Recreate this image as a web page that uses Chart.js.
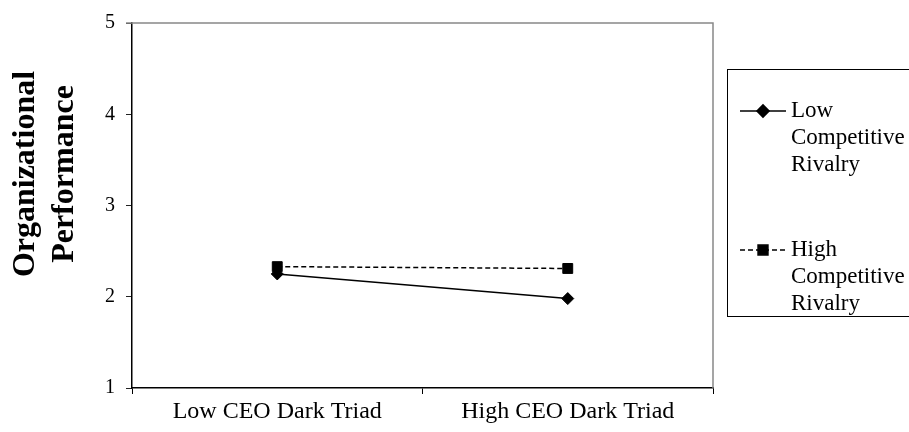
<!DOCTYPE html>
<html>
<head>
<meta charset="utf-8">
<script src="https://cdn.jsdelivr.net/npm/chart.js@4.4.0/dist/chart.umd.min.js"></script>
<style>
  html, body { margin: 0; padding: 0; background: #fff; }
</style>
</head>
<body>
<canvas id="ceoChart" width="909" height="432"></canvas>
<script>
const categories = ["Low CEO Dark Triad", "High CEO Dark Triad"];
const lowRivalry = [2.25, 1.98];
const highRivalry = [2.33, 2.31];
const seriesLabels = [["Low", "Competitive", "Rivalry"], ["High", "Competitive", "Rivalry"]];
const yTicks = [1, 2, 3, 4, 5];
const yTitle = ["Organizational", "Performance"];

const serif = "'Liberation Serif', 'Times New Roman', serif";

// top/right frame of the plot, y title and the boxed legend on the right
const extras = {
  id: "extras",
  beforeDatasetsDraw(chart) {
    const { ctx, chartArea: a } = chart;
    ctx.save();
    ctx.strokeStyle = "#888";
    ctx.lineWidth = 1.5;
    ctx.beginPath();
    ctx.moveTo(126, a.top);
    ctx.lineTo(a.right, a.top);
    ctx.lineTo(a.right, a.bottom);
    ctx.stroke();
    ctx.restore();
  },
  afterDraw(chart) {
    const { ctx } = chart;
    ctx.save();
    // y axis title
    ctx.fillStyle = "#000";
    ctx.font = "bold 32px " + serif;
    ctx.textAlign = "center";
    ctx.textBaseline = "middle";
    ctx.translate(26, 174);
    ctx.rotate(-Math.PI / 2);
    yTitle.forEach((t, i) => ctx.fillText(t, 0, i * 39));
    ctx.restore();

    // legend
    ctx.save();
    ctx.strokeStyle = "#000";
    ctx.lineWidth = 1;
    ctx.strokeRect(727.5, 69.5, 200, 247);
    const rows = [111, 250];
    chart.data.datasets.forEach((ds, i) => {
      const y = rows[i];
      ctx.strokeStyle = ds.borderColor;
      ctx.lineWidth = ds.borderWidth;
      ctx.setLineDash(ds.borderDash || []);
      ctx.beginPath();
      ctx.moveTo(740, y);
      ctx.lineTo(786, y);
      ctx.stroke();
      ctx.setLineDash([]);
      ctx.fillStyle = ds.backgroundColor;
      Chart.helpers.drawPoint(ctx, {
        pointStyle: ds.pointStyle, radius: ds.pointRadius, rotation: 0, borderWidth: 1
      }, 763, y);
      ctx.fillStyle = "#000";
      ctx.font = "23px " + serif;
      ctx.textAlign = "left";
      ctx.textBaseline = "middle";
      seriesLabels[i].forEach((t, j) => ctx.fillText(t, 791, y + j * 27));
    });
    ctx.restore();
  }
};

new Chart(document.getElementById("ceoChart"), {
  type: "line",
  data: {
    labels: categories,
    datasets: [
      {
        label: seriesLabels[0].join(" "),
        data: lowRivalry,
        borderColor: "#000",
        backgroundColor: "#000",
        borderWidth: 1.6,
        pointStyle: "rectRot",
        pointRadius: 6,
        pointBorderWidth: 1,
        tension: 0,
        order: 2,
      },
      {
        label: seriesLabels[1].join(" "),
        data: highRivalry,
        borderColor: "#000",
        backgroundColor: "#000",
        borderWidth: 1.5,
        borderDash: [5, 3],
        pointStyle: "rect",
        pointRadius: 7,
        pointBorderWidth: 1,
        tension: 0,
        order: 1,
      },
    ],
  },
  options: {
    responsive: false,
    animation: false,
    layout: { padding: { left: 0, top: 22, right: 196, bottom: 0 } },
    plugins: { legend: { display: false }, tooltip: { enabled: false } },
    scales: {
      x: {
        offset: true,
        grid: { offset: true, drawOnChartArea: false, tickLength: 6, color: "#000" },
        border: { color: "#000", width: 1.5 },
        ticks: { color: "#000", font: { family: serif, size: 24 }, padding: 3, maxRotation: 0 },
        afterFit: (s) => { s.height = 44; },
      },
      y: {
        min: 1,
        max: 5,
        afterBuildTicks: (s) => { s.ticks = yTicks.map((v) => ({ value: v })); },
        grid: { drawOnChartArea: false, tickLength: 6, color: "#222" },
        border: { color: "#000", width: 1.5 },
        ticks: { color: "#000", font: { family: serif, size: 20 }, padding: 11 },
        afterFit: (s) => { s.width = 132; },
      },
    },
  },
  plugins: [extras],
});
</script>
</body>
</html>
